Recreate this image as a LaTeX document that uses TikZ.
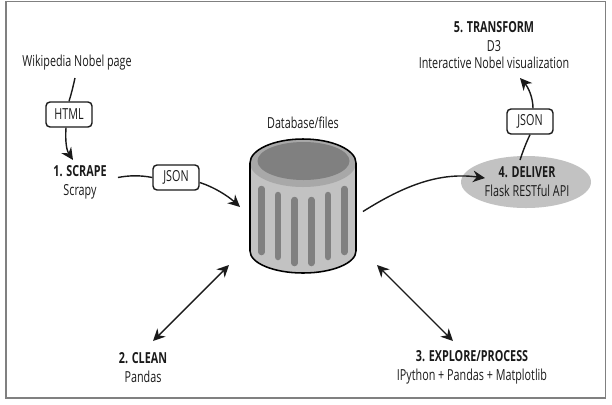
\documentclass[tikz,border=0pt]{standalone}
\usepackage{fontspec}
\setmainfont[FakeStretch=0.71]{Open Sans}
\usetikzlibrary{arrows.meta}

\definecolor{frameGray}{HTML}{808080}
\definecolor{bodyGray}{HTML}{C2C2C2}
\definecolor{bandGray}{HTML}{A8A8A8}
\definecolor{darkGray}{HTML}{808080}
\definecolor{inkGray}{HTML}{1A1A1A}

\tikzset{
    labelNode/.style = {align = center, anchor = center, text = inkGray, inner sep = 0pt,
        font = \fontsize{10.8pt}{13.5pt}\selectfont},
    formatBox/.style = {labelNode, draw = inkGray, line width = 1pt, fill = white,
        rounded corners = 1mm, minimum width = 46*0.025cm, minimum height = 25*0.025cm},
    flowLine/.style = {draw = inkGray, line width = 1pt},
    flowArrow/.style = {flowLine, -{Stealth[length = 3mm, width = 2.9mm]}},
    bothArrow/.style = {flowLine, {Stealth[length = 3mm, width = 2.9mm]}-{Stealth[length = 3mm, width = 2.9mm]}},
    stripeBar/.style = {line width = 6.5*0.025cm, line cap = round, draw = darkGray},
}

\begin{document}
\begin{tikzpicture}[x = 0.025cm, y = -0.025cm]

    \useasboundingbox (0,0) rectangle (612,404);

    \draw [frameGray, line width = 0.8pt] (6,1.5) rectangle (605.5,398);

    %% Drawing the database
    \draw [fill = bodyGray, draw = none]
    (250,163)
    arc [start angle = 180, end angle = 360, x radius = 53, y radius = 24]
    -- (356,251)
    arc [start angle = 0, end angle = 180, x radius = 53, y radius = 22]
    -- cycle
    ;

    \fill [bandGray] (303,163) ellipse [x radius = 53, y radius = 24];
    \fill [darkGray] (303.5,161) ellipse [x radius = 46, y radius = 19];

    \draw [black, line width = 1.1pt]
    (250,163)
    arc [start angle = 180, end angle = 360, x radius = 53, y radius = 24]
    -- (356,251)
    arc [start angle = 0, end angle = 180, x radius = 53, y radius = 22]
    -- cycle
    ;

    \draw [stripeBar] (261.5,189) -- (261.5,252);
    \draw [stripeBar] (278,195) -- (278,257);
    \draw [stripeBar] (294.7,200) -- (294.7,263);
    \draw [stripeBar] (311.3,200) -- (311.3,263);
    \draw [stripeBar] (328,195) -- (328,257);
    \draw [stripeBar] (344.3,189) -- (344.3,252);

    \coordinate (dbLeftIn) at (240,207);
    \coordinate (dbRightOut) at (363,211.5);
    \coordinate (dbLeftLow) at (229,265);
    \coordinate (dbRightLow) at (377,265);

    %% Drawing the nodes
    \fill [bodyGray] (526,182) ellipse [x radius = 65, y radius = 26];

    \node [labelNode] (wikiNode) at (77,63) {Wikipedia Nobel page};
    \node [formatBox] (htmlBox) at (69,114.5) {HTML};
    \node [labelNode] (scrapeNode) at (80,182) {\textbf{1. SCRAPE}\\Scrapy};
    \node [formatBox] (scrapeJson) at (176,177.5) {JSON};
    \node [labelNode] (dbLabel) at (303,123) {Database/files};
    \node [labelNode] (cleanNode) at (143,367.5) {\textbf{2. CLEAN}\\Pandas};
    \node [labelNode] (exploreNode) at (472,367.5) {\textbf{3. EXPLORE/PROCESS}\\IPython + Pandas + Matplotlib};
    \node [labelNode] (deliverNode) at (527,181.5) {\textbf{4. DELIVER}\\Flask RESTful API};
    \node [formatBox] (deliverJson) at (530,121.5) {JSON};
    \node [labelNode, font = \fontsize{10.8pt}{12pt}\selectfont] (transformNode) at (494,45)
    {\textbf{5. TRANSFORM}\\[2pt]D3\\Interactive Nobel visualization};

    %% Drawing the connectors
    \coordinate (wikiOut) at (75,78);
    \coordinate (scrapeIn) at (73,160);
    \coordinate (scrapeOut) at (118,177.5);
    \coordinate (deliverIn) at (485,178);
    \coordinate (deliverOut) at (520,160);
    \coordinate (transformIn) at (520,78);
    \coordinate (cleanIn) at (153,341);
    \coordinate (exploreIn) at (453,341);

    \draw [flowLine] (wikiOut) .. controls (73,87) and (71,95) .. (htmlBox.north);
    \draw [flowArrow] (htmlBox.south) ++(-3,0) .. controls (65,143) and (67,151) .. (scrapeIn);
    \draw [flowLine] (scrapeOut) .. controls (128,175.5) and (140,175) .. (scrapeJson.west);
    \draw [flowArrow] (scrapeJson.east) ++(0,5) .. controls (214,187) and (228,196) .. (dbLeftIn);
    \draw [bothArrow] (cleanIn) -- (dbLeftLow);
    \draw [bothArrow] (dbRightLow) -- (exploreIn);
    \draw [flowArrow] (dbRightOut) .. controls (405,185) and (440,172) .. (deliverIn);
    \draw [flowLine] (deliverOut) .. controls (523,151) and (526,143) .. (deliverJson.south);
    \draw [flowArrow] (deliverJson.north) ++(3,0) .. controls (533,97) and (528,87) .. (transformIn);

\end{tikzpicture}
\end{document}
